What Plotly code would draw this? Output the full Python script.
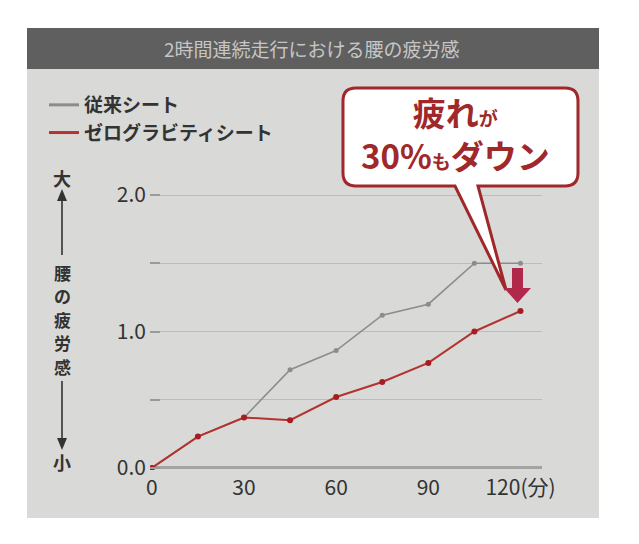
import plotly.graph_objects as go

minutes = [0, 15, 30, 45, 60, 75, 90, 105, 120]
conventional = [0.0, 0.23, 0.37, 0.72, 0.86, 1.12, 1.20, 1.50, 1.50]
zero_gravity = [0.0, 0.23, 0.37, 0.35, 0.52, 0.63, 0.77, 1.00, 1.15]
series_names = ["従来シート", "ゼログラビティシート"]
x_tick_vals = [0, 30, 60, 90, 120]
x_tick_text = ["0", "30", "60", "90", "120(分)"]
y_tick_vals = [0, 0.5, 1.0, 1.5, 2.0]
y_tick_text = ["0.0", "", "1.0", "", "2.0"]
y_title_chars = ["腰", "の", "疲", "労", "感"]

FONT = "Noto Sans CJK JP"
GRAY = "#8c8c8c"
RED = "#b3332f"
DARK_RED = "#a0282b"
INK = "#333333"

# the page shows the figure 8px in from the top-left corner (body margin),
# so everything below is laid out in window pixels and shifted by OFF
OFF = 8
W, H = 623, 528
L, R, T, B = 150, 542, 190, 470   # plot area in window pixels


def px(x):
    return (x - L) / (R - L)


def py(y):
    return (B - y) / (B - T)


def pt(x, y):
    return f"{px(x):.4f},{py(y):.4f}"


fig = go.Figure()

fig.add_trace(go.Scatter(
    x=minutes, y=conventional, mode="lines+markers",
    line=dict(color=GRAY, width=1.6),
    marker=dict(color=GRAY, size=5),
    showlegend=False,
))
fig.add_trace(go.Scatter(
    x=minutes, y=zero_gravity, mode="lines+markers",
    line=dict(color=RED, width=2),
    marker=dict(color="#a51d22", size=6),
    showlegend=False,
))
# legend entries (line only, as in the original)
fig.add_trace(go.Scatter(x=[None], y=[None], mode="lines", name=series_names[0],
                         line=dict(color=GRAY, width=3)))
fig.add_trace(go.Scatter(x=[None], y=[None], mode="lines", name=series_names[1],
                         line=dict(color=RED, width=3)))

# speech bubble outline with tail
x0, x1, y0, y1, r = 343, 578, 88, 186, 13
bubble = (
    f"M {pt(x0 + r, y0)} L {pt(x1 - r, y0)} Q {pt(x1, y0)} {pt(x1, y0 + r)} "
    f"L {pt(x1, y1 - r)} Q {pt(x1, y1)} {pt(x1 - r, y1)} "
    f"L {pt(478, y1)} L {pt(506, 290)} L {pt(455, y1)} "
    f"L {pt(x0 + r, y1)} Q {pt(x0, y1)} {pt(x0, y1 - r)} "
    f"L {pt(x0, y0 + r)} Q {pt(x0, y0)} {pt(x0 + r, y0)} Z"
)
down_arrow = (
    f"M {pt(512, 268)} L {pt(523, 268)} L {pt(523, 288)} L {pt(531, 288)} "
    f"L {pt(517.5, 303)} L {pt(504, 288)} L {pt(512, 288)} Z"
)
up_head = f"M {pt(57, 201)} L {pt(67, 201)} L {pt(62, 189)} Z"
down_head = f"M {pt(57, 438)} L {pt(67, 438)} L {pt(62, 450)} Z"

shapes = [
    dict(type="rect", xref="paper", yref="paper", layer="below",
         x0=px(27), x1=px(599), y0=py(28), y1=py(518),
         fillcolor="#d9d9d7", line=dict(width=0)),
    dict(type="rect", xref="paper", yref="paper", layer="below",
         x0=px(27), x1=px(599), y0=py(28), y1=py(69),
         fillcolor="#5f5f5f", line=dict(width=0)),
    dict(type="path", xref="paper", yref="paper", layer="above", path=bubble,
         fillcolor="white", line=dict(color=DARK_RED, width=3)),
    dict(type="path", xref="paper", yref="paper", layer="above", path=down_arrow,
         fillcolor="#b0284a", line=dict(width=0)),
    # vertical axis arrows
    dict(type="line", xref="paper", yref="paper", x0=px(62), x1=px(62),
         y0=py(198), y1=py(255), line=dict(color=INK, width=1.6)),
    dict(type="path", xref="paper", yref="paper", path=up_head,
         fillcolor=INK, line=dict(width=0)),
    dict(type="line", xref="paper", yref="paper", x0=px(62), x1=px(62),
         y0=py(381), y1=py(440), line=dict(color=INK, width=1.6)),
    dict(type="path", xref="paper", yref="paper", path=down_head,
         fillcolor=INK, line=dict(width=0)),
]

small = "<span style='font-size:19px'>{}</span>"
annotations = [
    dict(text="2時間連続走行における腰の疲労感", x=px(312), y=py(48),
         font=dict(size=19, color="#c6c6c6")),
    dict(text="<b>疲れ" + small.format("が") + "<br>30%" + small.format("も")
         + "ダウン</b>",
         x=px(455), y=py(133), font=dict(size=33, color=DARK_RED)),
    dict(text="<b>大</b>", x=px(62), y=py(178), font=dict(size=18, color=INK)),
    dict(text="<b>小</b>", x=px(62), y=py(462), font=dict(size=18, color=INK)),
]
for i, ch in enumerate(y_title_chars):
    annotations.append(dict(text=f"<b>{ch}</b>", x=px(62), y=py(272 + 23.5 * i),
                            font=dict(size=17, color=INK)))
for a in annotations:
    a.update(xref="paper", yref="paper", showarrow=False,
             xanchor="center", yanchor="middle")
    a["font"]["family"] = FONT

fig.update_layout(
    width=W, height=H,
    margin=dict(l=L - OFF, r=W + OFF - R, t=T - OFF, b=H + OFF - B),
    paper_bgcolor="white",
    plot_bgcolor="rgba(0,0,0,0)",
    font=dict(family=FONT, color=INK),
    shapes=shapes,
    annotations=annotations,
    legend=dict(x=px(44), y=py(86), xanchor="left", yanchor="top",
                bgcolor="rgba(0,0,0,0)", font=dict(size=19, color=INK, weight=700),
                itemwidth=30, tracegroupgap=0),
    xaxis=dict(range=[-0.6, 127], tickvals=x_tick_vals, ticktext=x_tick_text,
               showgrid=False, zeroline=False, showline=False,
               tickfont=dict(size=21, color=INK), ticks="", ticklabelstandoff=3),
    yaxis=dict(range=[-0.015, 2.037], tickvals=y_tick_vals, ticktext=y_tick_text,
               showgrid=True, gridcolor="#bcbcba", gridwidth=1,
               zeroline=True, zerolinecolor="#a3a3a3", zerolinewidth=2.5,
               ticks="inside", ticklen=10, tickcolor="#9a9a9a", tickwidth=1.5,
               ticklabelstandoff=3, tickfont=dict(size=21, color=INK)),
)

fig.write_html("out.html")
